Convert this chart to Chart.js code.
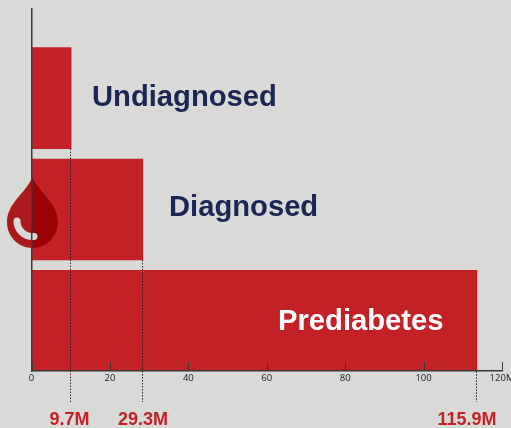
<!DOCTYPE html>
<html>
<head>
<meta charset="utf-8">
<style>
  html, body { margin: 0; padding: 0; background: #d9d9d7; overflow: hidden; }
  canvas { display: block; }
</style>
<script src="https://cdn.jsdelivr.net/npm/chart.js@4"></script>
</head>
<body>
<canvas id="chart" width="511" height="428"></canvas>
<script>
const categories = ['Undiagnosed', 'Diagnosed', 'Prediabetes'];
const barValues = [10.1, 28.4, 113.6];
const barSlots = [2.45, 1.45, 0.45];
const valueLabels = ['9.7M', '29.3M', '115.9M'];

const BG = '#d9d9d7';
const RED = '#c42126';
const NAVY = '#1b2654';
const TEXT_FONT = 'bold 29.2px "Liberation Sans", Arial, sans-serif';
const VALUE_FONT = 'bold 18px "Liberation Sans", Arial, sans-serif';
const BAR_THICKNESS = 101;

// Annotations that Chart.js has no built-in for: tick stubs, guides, drop, text
const annotations = {
  id: 'annotations',
  beforeDraw(chart) {
    // the drop multiplies, so the canvas needs a real background
    chart.ctx.save();
    chart.ctx.fillStyle = BG;
    chart.ctx.fillRect(0, 0, chart.width, chart.height);
    chart.ctx.restore();
  },
  afterDatasetsDraw(chart) {
    const { ctx, scales: { x, y } } = chart;
    ctx.save();

    // ticks point up into the plot
    ctx.strokeStyle = '#3a3a3a';
    ctx.lineWidth = 1;
    x.ticks.forEach(t => {
      const px = Math.round(x.getPixelForValue(t.value)) + 0.5;
      ctx.beginPath();
      ctx.moveTo(px, y.bottom - 9);
      ctx.lineTo(px, y.bottom);
      ctx.stroke();
    });

    // dotted guides from the end of each bar down to its value label
    ctx.strokeStyle = '#222';
    ctx.setLineDash([1.5, 1.5]);
    barValues.forEach((v, i) => {
      const px = Math.round(x.getPixelForValue(v)) - 0.5;
      ctx.beginPath();
      ctx.moveTo(px, y.getPixelForValue(barSlots[i]) + BAR_THICKNESS / 2);
      ctx.lineTo(px, 402);
      ctx.stroke();
    });
    ctx.setLineDash([]);

    // blood drop, multiplied over the axis and bars
    ctx.globalCompositeOperation = 'multiply';
    ctx.fillStyle = 'rgb(201,29,33)';
    ctx.beginPath();
    ctx.moveTo(32.5, 177);
    ctx.bezierCurveTo(26, 193, 7, 203, 7, 222);
    ctx.bezierCurveTo(7, 237, 19, 248, 32.5, 248);
    ctx.bezierCurveTo(46, 248, 58, 237, 58, 222);
    ctx.bezierCurveTo(58, 203, 39, 193, 32.5, 177);
    ctx.fill();
    ctx.globalCompositeOperation = 'source-over';
    ctx.strokeStyle = BG;
    ctx.lineWidth = 7;
    ctx.lineCap = 'round';
    ctx.beginPath();
    ctx.arc(32.5, 221, 15.5, Math.PI, Math.PI * 0.47, true);
    ctx.stroke();

    // bar captions
    ctx.textBaseline = 'alphabetic';
    ctx.textAlign = 'left';
    ctx.font = TEXT_FONT;
    ctx.fillStyle = NAVY;
    ctx.fillText(categories[0], 92, 106);
    ctx.fillText(categories[1], 169, 216);
    ctx.fillStyle = '#fff';
    ctx.fillText(categories[2], 278, 330);

    // value labels
    ctx.font = VALUE_FONT;
    ctx.fillStyle = RED;
    ctx.textAlign = 'center';
    ctx.fillText(valueLabels[0], 69.5, 425);
    ctx.fillText(valueLabels[1], 143, 425);
    ctx.fillText(valueLabels[2], 467, 425);
    ctx.restore();
  }
};

new Chart(document.getElementById('chart'), {
  type: 'bar',
  data: {
    datasets: [{
      data: barValues.map((v, i) => ({ x: v, y: barSlots[i] })),
      backgroundColor: RED,
      barThickness: BAR_THICKNESS
    }]
  },
  options: {
    indexAxis: 'y',
    responsive: false,
    animation: false,
    layout: { padding: { left: 31.5, right: 9, top: 9, bottom: 0 } },
    plugins: { legend: { display: false }, tooltip: { enabled: false } },
    scales: {
      x: {
        type: 'linear',
        min: 0,
        max: 120,
        afterFit: s => { s.paddingLeft = 0; s.paddingRight = 0; s.height = 57; },
        grid: { drawOnChartArea: false, drawTicks: false },
        border: { color: '#3a3a3a', width: 1.5, z: 1 },
        ticks: {
          stepSize: 20,
          padding: 2,
          maxRotation: 0,
          color: '#222',
          font: { family: '"Open Sans", sans-serif', size: 9.5 },
          callback: v => v === 120 ? '120M' : String(v)
        }
      },
      y: {
        type: 'linear',
        min: 0,
        max: 3.25,
        offset: false,
        afterFit: s => { s.width = 0; },
        grid: { drawOnChartArea: false, drawTicks: false, offset: false },
        border: { color: '#3a3a3a', width: 1.5, z: 1 },
        ticks: { display: false }
      }
    }
  },
  plugins: [annotations]
});
</script>
</body>
</html>
